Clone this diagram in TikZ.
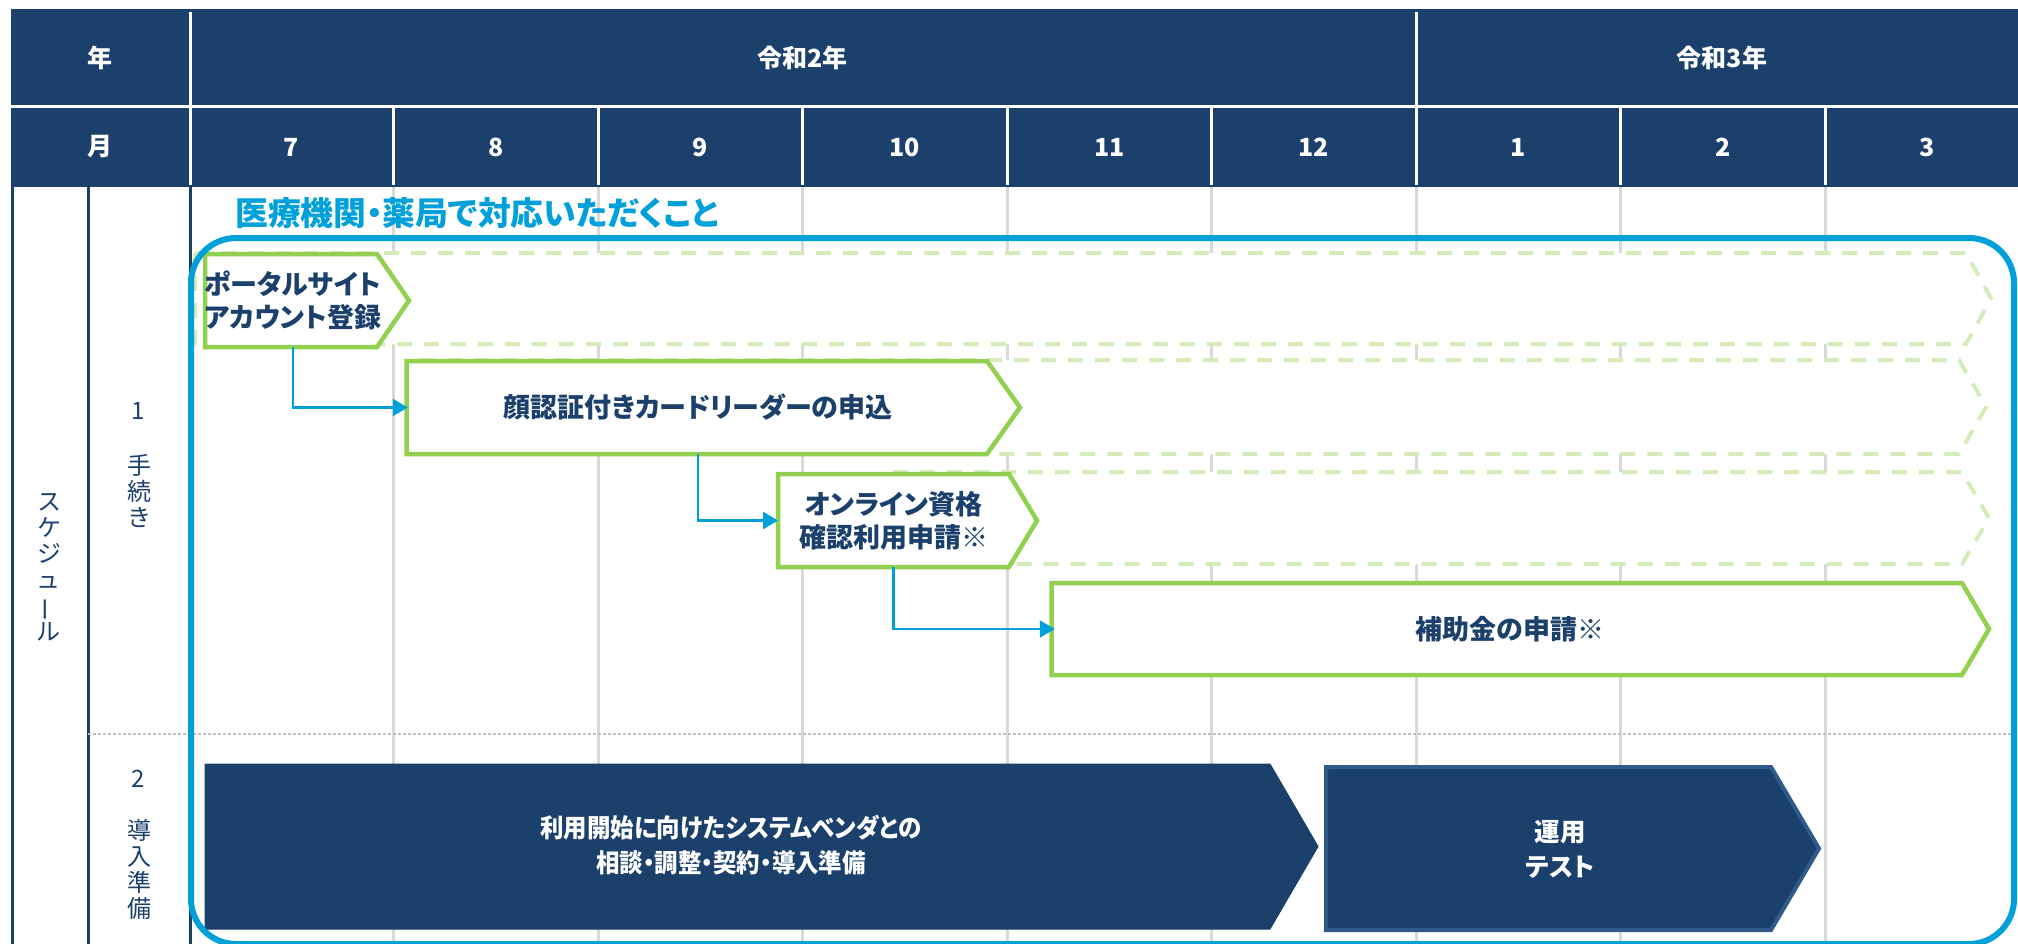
\documentclass[tikz,border=0pt]{standalone}
\usepackage{fontspec}
\setmainfont{Noto Sans CJK JP}[RawFeature={+palt}]
\usetikzlibrary{arrows.meta}
\definecolor{navy}{HTML}{1B406C}
\definecolor{navyedge}{HTML}{2F5A8A}
\definecolor{skyblue}{HTML}{00A0DB}
\definecolor{lgreen}{HTML}{92D050}
\definecolor{palegreen}{HTML}{D3ECB9}
\definecolor{gridgray}{HTML}{D9D9D9}
\definecolor{dotgray}{HTML}{BFBFBF}
\begin{document}
\begin{tikzpicture}[x=1pt,y=-1pt,
 hdr/.style={text=white,font=\bfseries\fontsize{25}{30}\selectfont,inner sep=0},
 sidelbl/.style={text=navy,font=\fontsize{24}{26}\selectfont,align=center,inner sep=0},
 dashbox/.style={fill=white,draw=palegreen,line width=4pt,dash pattern=on 15pt off 12pt},
 greenbox/.style={fill=white,draw=lgreen,line width=4.5pt},
 navybox/.style={fill=navy,draw=navy,line width=1pt},
 testbox/.style={fill=navy,draw=navyedge,line width=4pt},
 body/.style={inner sep=0,outer sep=0,align=center,text=navy,font=\bfseries\fontsize{27}{33}\selectfont},
 whitetext/.style={inner sep=0,align=center,text=white,font=\bfseries\fontsize{25.5}{34.5}\selectfont},
 conn/.style={draw=skyblue,line width=2.5pt,-{Triangle[length=15pt,width=17pt]}},
 gridline/.style={gridgray,line width=3pt},
 hline/.style={white,line width=3pt}
]
\path[use as bounding box] (0,0) rectangle (2018,944);
\clip (0,0) rectangle (2018,944);
\fill[white] (0,0) rectangle (2018,944);

% header
\fill[navy] (11,9) rectangle (2030,187);
\draw[hline] (11,107) -- (2030,107);
\draw[hline] (190,12) -- (190,185) (1416,12) -- (1416,185);
\foreach \x in {393.5,598,802.5,1007,1211.5,1620.5,1825} \draw[hline] (\x,107) -- (\x,185);

% grid
\foreach \x in {393.5,598,802.5,1007,1211.5,1416,1620.5,1825} \draw[gridline] (\x,187) -- (\x,944);
\draw[navy,line width=3pt] (12,187) -- (12,944) (88,187) -- (88,944) (190,187) -- (190,944);
\draw[dotgray,line width=2.5pt,dash pattern=on 2.5pt off 2.5pt] (88,734) -- (2018,734);

% dashed continuation arrows
\draw[dashbox] (195,253) -- (1966,253) -- (1991,298.5) -- (1966,344) -- (195,344) -- cycle;
\draw[dashbox] (420,360) -- (1959,360) -- (1986,407) -- (1959,454) -- (420,454) -- cycle;
\draw[dashbox] (893,472) -- (1962,472) -- (1989,518) -- (1962,564) -- (893,564) -- cycle;

% solid arrows
\draw[greenbox] (205,254) -- (377,254) -- (409,300.5) -- (377,347) -- (205,347) -- cycle;
\draw[greenbox] (406.5,361) -- (987,361) -- (1020,407.5) -- (987,454) -- (406.5,454) -- cycle;
\draw[greenbox] (778,474) -- (1009,474) -- (1037,520.5) -- (1009,567) -- (778,567) -- cycle;
\draw[greenbox] (1051.5,583) -- (1962,583) -- (1989,629) -- (1962,675) -- (1051.5,675) -- cycle;
\draw[navybox] (205,764) -- (1270,764) -- (1318,846.5) -- (1270,929) -- (205,929) -- cycle;
\draw[testbox] (1326,767) -- (1771,767) -- (1819,848.5) -- (1771,930) -- (1326,930) -- cycle;

% box texts
\node[body,minimum width=172pt,minimum height=93pt,align=left] (portal) at (293,300.5) {ポータルサイト\\アカウント登録};
\node[body,minimum width=580.5pt,minimum height=93pt] (kao) at (698,407.5) {顔認証付きカードリーダーの申込};
\node[body,minimum width=231pt,minimum height=93pt] (online) at (893.5,520.5) {オンライン資格\\確認利用申請※};
\node[body,minimum width=910.5pt,minimum height=92pt] (hojo) at (1510,629) {補助金の申請※};
\node[whitetext] (riyo) at (731,845) {\scalebox{0.92}[1]{利用開始に向けたシステムベンダとの}\\\scalebox{0.92}[1]{相談・調整・契約・導入準備}};
\node[whitetext] (unyo) at (1560,849.5) {運用\\テスト};

% connectors
\draw[conn] (portal.south) |- (kao.west);
\draw[conn] (kao.south) |- (online.west);
\draw[conn] (online.south) |- (hojo.west);

% frame and title
\draw[skyblue,line width=6pt,rounded corners=45pt] (191,238) rectangle (2014,944);
\node[anchor=west,text=skyblue,font=\bfseries\fontsize{32.8}{40}\selectfont,inner sep=0] (title) at (235,213) {医療機関・薬局で対応いただくこと};

% side labels
\node[sidelbl] (sched) at (49,567.5) {ス\\ケ\\ジ\\ュ\\\rotatebox[origin=c]{90}{ー}\\ル};
\node[sidelbl] (n1) at (138.5,411) {1};
\node[sidelbl] (tetsu) at (139,491) {手\\続\\き};
\node[sidelbl] (n2) at (138,779) {2};
\node[sidelbl] (dounyu) at (139,869) {導\\入\\準\\備};

% header labels
\node[hdr] (nen) at (100,58) {年};
\node[hdr] (tsuki) at (100,147) {月};
\node[hdr] (r2) at (802.5,58) {令和2年};
\node[hdr] (r3) at (1722,58) {令和3年};
\foreach \m/\x in {7/291,8/495.75,9/700.25,10/904.75,11/1109.25,12/1313.75,1/1518.25,2/1722.75,3/1927.25}
  \node[hdr] (m\m) at (\x,147) {\m};
\end{tikzpicture}
\end{document}
